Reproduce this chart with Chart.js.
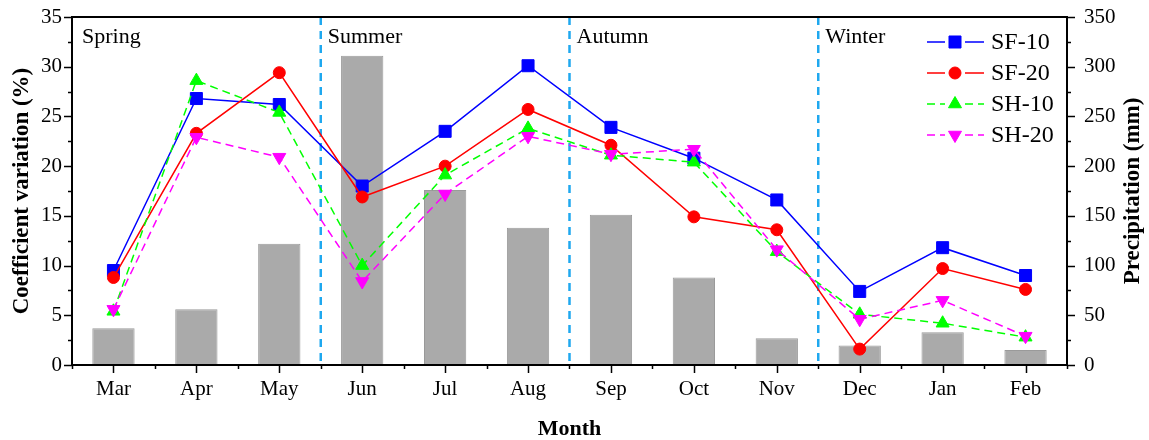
<!DOCTYPE html>
<html>
<head>
<meta charset="utf-8">
<script src="https://cdn.jsdelivr.net/npm/chart.js@4.4.1/dist/chart.umd.min.js"></script>
<style>
  html, body { margin: 0; padding: 0; background: #fff; }
  #wrap { width: 1149px; height: 440px; }
</style>
</head>
<body>
<div id="wrap"><canvas id="c" width="1149" height="440"></canvas></div>
<script>
// Monthly coefficient of variation (%) per plot and monthly precipitation (mm)
const months = ['Mar', 'Apr', 'May', 'Jun', 'Jul', 'Aug', 'Sep', 'Oct', 'Nov', 'Dec', 'Jan', 'Feb'];
const sf10 = [9.5, 26.8, 26.2, 18.0, 23.5, 30.1, 23.9, 20.8, 16.6, 7.4, 11.8, 9.0];
const sf20 = [8.8, 23.3, 29.4, 16.9, 20.0, 25.7, 22.1, 14.9, 13.6, 1.6, 9.7, 7.6];
const sh10 = [5.4, 28.6, 25.4, 10.0, 19.1, 23.8, 21.1, 20.4, 11.4, 5.1, 4.2, 2.8];
const sh20 = [5.6, 22.9, 20.9, 8.4, 17.2, 23.0, 21.2, 21.7, 11.6, 4.6, 6.5, 2.9];
const precipitation = [37, 56, 122, 311, 176, 138, 151, 88, 27, 19.5, 33, 15];

// Season labels and the month each season starts with
const seasons = ['Spring', 'Summer', 'Autumn', 'Winter'];
const seasonStart = ['Mar', 'Jun', 'Sep', 'Dec'];

// Axis ranges and tick steps
const cvMax = 35, cvStep = 5;
const prMax = 350, prStep = 50;

const SERIF = "'Liberation Serif', 'Times New Roman', serif";
Chart.defaults.font.family = SERIF;
Chart.defaults.color = '#000';

// Seasonal separators and labels drawn behind the data
const seasonPlugin = {
  id: 'seasons',
  beforeDatasetsDraw(chart) {
    const { ctx, chartArea: a, scales: { x } } = chart;
    ctx.save();
    seasonStart.forEach((m, i) => {
      const idx = months.indexOf(m);
      let bx = a.left;
      if (idx > 0) {
        bx = (x.getPixelForValue(idx - 1) + x.getPixelForValue(idx)) / 2;
        ctx.strokeStyle = '#1fa8ef';
        ctx.lineWidth = 2.5;
        ctx.setLineDash([8, 6]);
        ctx.beginPath();
        ctx.moveTo(bx, a.top);
        ctx.lineTo(bx, a.bottom);
        ctx.stroke();
        ctx.setLineDash([]);
      }
      ctx.fillStyle = '#000';
      ctx.font = '22px ' + SERIF;
      ctx.textAlign = 'left';
      ctx.textBaseline = 'alphabetic';
      ctx.fillText(seasons[i], bx + (idx > 0 ? 7 : 10), a.top + 26);
    });
    ctx.restore();
  }
};

// Box frame, outward tick marks, right axis title and legend
const framePlugin = {
  id: 'frame',
  afterDraw(chart) {
    const { ctx, chartArea: a, scales: { x, y, y2 } } = chart;
    ctx.save();
    ctx.strokeStyle = '#000';
    ctx.lineWidth = 2;
    ctx.strokeRect(a.left, a.top, a.right - a.left, a.bottom - a.top);

    ctx.lineWidth = 1.5;
    ctx.beginPath();
    // left axis ticks
    for (let v = 0; v <= cvMax + 1e-9; v += cvStep / 2) {
      const py = Math.round(y.getPixelForValue(v)) + 0.5;
      const len = (Math.abs(v / cvStep - Math.round(v / cvStep)) < 1e-6) ? 8 : 4;
      ctx.moveTo(a.left, py); ctx.lineTo(a.left - len, py);
    }
    // right axis ticks
    for (let v = 0; v <= prMax + 1e-9; v += prStep / 2) {
      const py = Math.round(y2.getPixelForValue(v)) + 0.5;
      const len = (Math.abs(v / prStep - Math.round(v / prStep)) < 1e-6) ? 8 : 4;
      ctx.moveTo(a.right, py); ctx.lineTo(a.right + len, py);
    }
    // bottom axis ticks: major at months, minor between them
    const half = (x.getPixelForValue(1) - x.getPixelForValue(0)) / 2;
    months.forEach((m, i) => {
      const px = Math.round(x.getPixelForValue(i)) + 0.5;
      ctx.moveTo(px, a.bottom); ctx.lineTo(px, a.bottom + 8);
      const bx = Math.round(x.getPixelForValue(i) - half) + 0.5;
      ctx.moveTo(bx, a.bottom); ctx.lineTo(bx, a.bottom + 4);
      if (i === months.length - 1) {
        const ex = Math.round(x.getPixelForValue(i) + half) + 0.5;
        ctx.moveTo(ex, a.bottom); ctx.lineTo(ex, a.bottom + 4);
      }
    });
    ctx.stroke();

    // right axis title, reading bottom to top
    ctx.fillStyle = '#000';
    ctx.font = 'bold 23px ' + SERIF;
    ctx.textAlign = 'center';
    ctx.textBaseline = 'middle';
    ctx.translate(1133, (a.top + a.bottom) / 2);
    ctx.rotate(-Math.PI / 2);
    ctx.fillText('Precipitation (mm)', 0, 0);
    ctx.restore();

    // legend
    ctx.save();
    const lx0 = a.right - 140, lx1 = a.right - 83, mx = a.right - 112, tx = a.right - 76;
    let row = 0;
    chart.data.datasets.forEach(ds => {
      if (ds.type !== 'line') return;
      const cy = a.top + 25 + row * 31;
      ctx.strokeStyle = ds.borderColor;
      ctx.lineWidth = ds.borderWidth;
      ctx.setLineDash(ds.borderDash || []);
      ctx.beginPath();
      ctx.moveTo(lx0, cy); ctx.lineTo(mx - 10, cy);
      ctx.moveTo(mx + 10, cy); ctx.lineTo(lx1, cy);
      ctx.stroke();
      ctx.setLineDash([]);
      ctx.fillStyle = ds.pointBackgroundColor;
      ctx.strokeStyle = ds.pointBorderColor;
      ctx.lineWidth = ds.pointBorderWidth;
      Chart.helpers.drawPoint(ctx, {
        pointStyle: ds.pointStyle, rotation: ds.pointRotation || 0,
        radius: ds.pointRadius, borderWidth: ds.pointBorderWidth
      }, mx, cy);
      ctx.fillStyle = '#000';
      ctx.font = '24px ' + SERIF;
      ctx.textAlign = 'left';
      ctx.textBaseline = 'middle';
      ctx.fillText(ds.label, tx, cy + 1);
      row++;
    });
    ctx.restore();
  }
};

function lineSet(label, data, color, style, radius, dashed, order, rotation) {
  return {
    type: 'line', label, data, yAxisID: 'y', order,
    borderColor: color, borderWidth: 1.5,
    borderDash: dashed ? [8, 5] : [],
    pointStyle: style, pointRotation: rotation || 0, pointRadius: radius,
    pointBackgroundColor: color, pointBorderColor: color, pointBorderWidth: 1,
    pointHoverRadius: radius, tension: 0, fill: false
  };
}

// Value axes keep a fixed width and no extra overflow padding above/below
function fixVertical(width) {
  return function (s) {
    s.width = width;
    s.paddingTop = 0;
    s.paddingBottom = 0;
  };
}

new Chart(document.getElementById('c'), {
  data: {
    labels: months,
    datasets: [
      lineSet('SF-10', sf10, '#0000ff', 'rect', 8.5, false, 4),
      lineSet('SF-20', sf20, '#ff0000', 'circle', 6, false, 3),
      lineSet('SH-10', sh10, '#00ff00', 'triangle', 7.5, true, 2),
      lineSet('SH-20', sh20, '#ff00ff', 'triangle', 7.5, true, 1, 180),
      {
        type: 'bar', label: 'Precipitation', data: precipitation, yAxisID: 'y2', order: 5,
        backgroundColor: '#aaaaaa', borderColor: '#9a9a9a', borderWidth: 1,
        categoryPercentage: 1, barPercentage: 0.51
      }
    ]
  },
  options: {
    responsive: false,
    animation: false,
    events: [],
    layout: { padding: { top: 17, left: 0, right: 0, bottom: 0 } },
    plugins: { legend: { display: false }, tooltip: { enabled: false } },
    scales: {
      x: {
        type: 'category', offset: true,
        grid: { display: false, drawTicks: false },
        border: { display: false },
        ticks: { font: { size: 21 }, color: '#000', padding: 12, maxRotation: 0 },
        title: { display: true, text: 'Month', font: { size: 22, weight: 'bold' }, color: '#000', padding: { top: 0, bottom: -3 } },
        afterFit(s) { s.height = 75; s.paddingLeft = 0; s.paddingRight = 0; }
      },
      y: {
        position: 'left', min: 0, max: cvMax,
        grid: { display: false, drawTicks: false },
        border: { display: false },
        ticks: { stepSize: cvStep, font: { size: 21 }, color: '#000', padding: 10 },
        title: { display: true, text: 'Coefficient variation (%)', font: { size: 23, weight: 'bold' }, color: '#000', padding: { top: 8, bottom: 0 } },
        afterFit: fixVertical(72)
      },
      y2: {
        position: 'right', min: 0, max: prMax,
        grid: { display: false, drawTicks: false },
        border: { display: false },
        ticks: { stepSize: prStep, font: { size: 21 }, color: '#000', padding: 17 },
        afterFit: fixVertical(82)
      }
    }
  },
  plugins: [seasonPlugin, framePlugin]
});
</script>
</body>
</html>
